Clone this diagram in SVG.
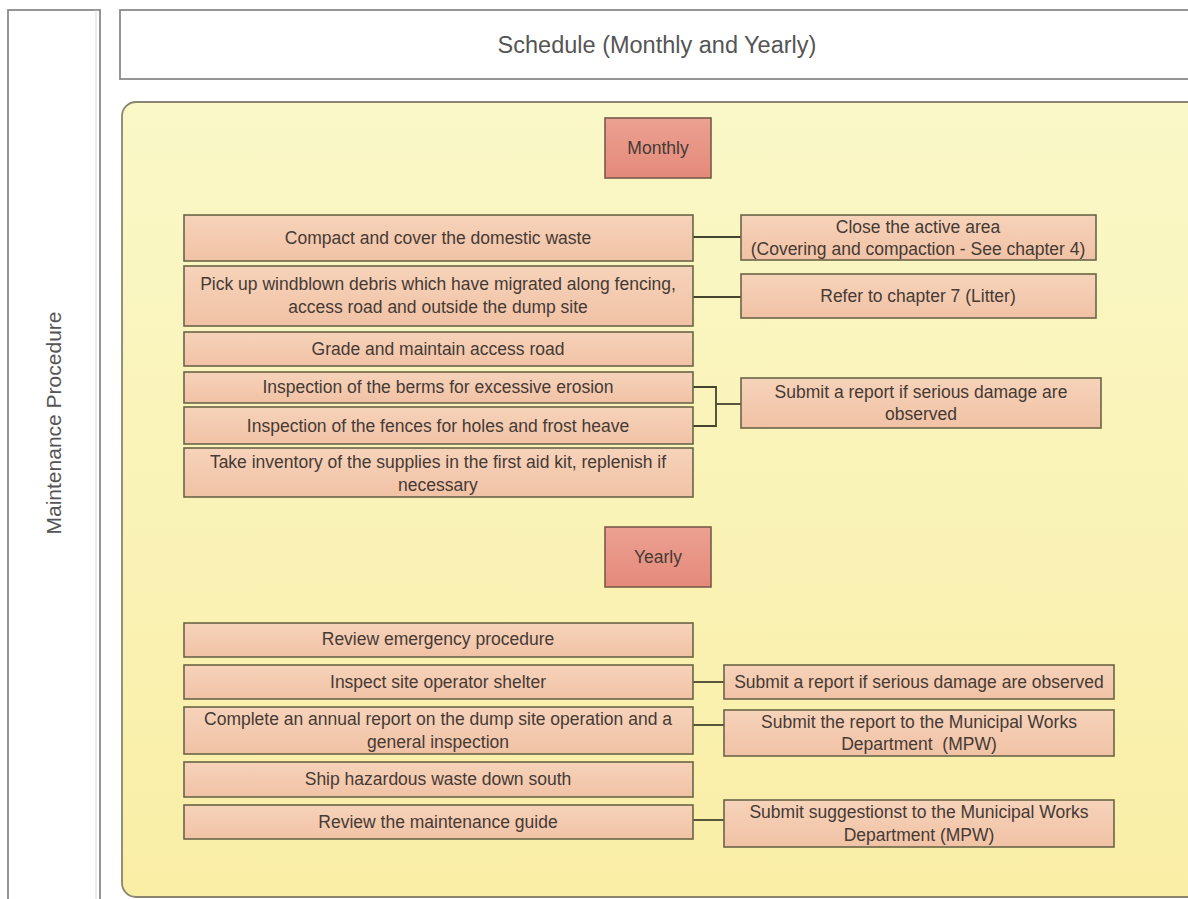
<svg xmlns="http://www.w3.org/2000/svg" width="1188" height="899" viewBox="0 0 1188 899">
<defs>
<linearGradient id="gY" x1="0" y1="0" x2="0" y2="1">
<stop offset="0" stop-color="#FAF8C8"/>
<stop offset="1" stop-color="#FAEEA6"/>
</linearGradient>
<linearGradient id="gB" x1="0" y1="0" x2="0" y2="1">
<stop offset="0" stop-color="#F6D3BA"/>
<stop offset="1" stop-color="#F1C2A5"/>
</linearGradient>
<linearGradient id="gH" x1="0" y1="0" x2="0" y2="1">
<stop offset="0" stop-color="#EBA191"/>
<stop offset="1" stop-color="#E5897A"/>
</linearGradient>
</defs>
<style>
text{font-family:"Liberation Sans",Arial,sans-serif;fill:#463a35;text-anchor:middle;font-size:17.5px;white-space:pre}
.b{fill:url(#gB);stroke:#6b6446;stroke-width:1.6}
.h{fill:url(#gH);stroke:#7a5a4a;stroke-width:1.6}
.c{fill:none;stroke:#45442e;stroke-width:1.8}
.frame{fill:#fff;stroke:#8a8a8a;stroke-width:1.8}
</style>
<g id="lane">
<rect class="frame" x="8" y="10" width="92" height="900"/>
<line x1="96" y1="10" x2="96" y2="899" stroke="#d8d8d8" stroke-width="1"/>
<text transform="translate(61,423) rotate(-90)" style="font-size:21px;fill:#555">Maintenance Procedure</text>
</g>
<g id="header">
<rect class="frame" x="120" y="10" width="1080" height="69"/>
<text x="657" y="53" style="font-size:23.5px;fill:#555">Schedule (Monthly and Yearly)</text>
</g>
<g id="container">
<rect x="122" y="102" width="1090" height="795" rx="14" fill="url(#gY)" stroke="#8a8470" stroke-width="1.8"/>
</g>
<g id="connectors">
<line class="c" x1="693" y1="237" x2="741" y2="237"/>
<line class="c" x1="693" y1="297" x2="741" y2="297"/>
<polyline class="c" points="693,387 716,387 716,426 693,426"/>
<line class="c" x1="716" y1="404" x2="741" y2="404"/>
<line class="c" x1="693" y1="682" x2="724" y2="682"/>
<line class="c" x1="693" y1="725" x2="724" y2="725"/>
<line class="c" x1="693" y1="820" x2="724" y2="820"/>
</g>
<g id="monthly">
<rect class="h" x="605" y="118" width="106" height="60"/>
<text x="658" y="154">Monthly</text>
</g>
<g id="m1">
<rect class="b" x="184" y="215" width="509" height="46"/>
<text x="438" y="244">Compact and cover the domestic waste</text>
</g>
<g id="m1r">
<rect class="b" x="741" y="215" width="355" height="45"/>
<text x="918" y="233">Close the active area</text>
<text x="918" y="255">(Covering and compaction - See chapter 4)</text>
</g>
<g id="m2">
<rect class="b" x="184" y="266" width="509" height="60"/>
<text x="438" y="290">Pick up windblown debris which have migrated along fencing,</text>
<text x="438" y="313">access road and outside the dump site</text>
</g>
<g id="m2r">
<rect class="b" x="741" y="274" width="355" height="44"/>
<text x="918" y="302">Refer to chapter 7 (Litter)</text>
</g>
<g id="m3">
<rect class="b" x="184" y="332" width="509" height="34"/>
<text x="438" y="355">Grade and maintain access road</text>
</g>
<g id="m4">
<rect class="b" x="184" y="372" width="509" height="31"/>
<text x="438" y="393">Inspection of the berms for excessive erosion</text>
</g>
<g id="m5">
<rect class="b" x="184" y="407" width="509" height="37"/>
<text x="438" y="432">Inspection of the fences for holes and frost heave</text>
</g>
<g id="m45r">
<rect class="b" x="741" y="378" width="360" height="50"/>
<text x="921" y="398">Submit a report if serious damage are</text>
<text x="921" y="420">observed</text>
</g>
<g id="m6">
<rect class="b" x="184" y="448" width="509" height="49"/>
<text x="438" y="468">Take inventory of the supplies in the first aid kit, replenish if</text>
<text x="438" y="491">necessary</text>
</g>
<g id="yearly">
<rect class="h" x="605" y="527" width="106" height="60"/>
<text x="658" y="563">Yearly</text>
</g>
<g id="y1">
<rect class="b" x="184" y="623" width="509" height="34"/>
<text x="438" y="645">Review emergency procedure</text>
</g>
<g id="y2">
<rect class="b" x="184" y="665" width="509" height="34"/>
<text x="438" y="688">Inspect site operator shelter</text>
</g>
<g id="y2r">
<rect class="b" x="724" y="665" width="390" height="34"/>
<text x="919" y="688">Submit a report if serious damage are observed</text>
</g>
<g id="y3">
<rect class="b" x="184" y="707" width="509" height="47"/>
<text x="438" y="725">Complete an annual report on the dump site operation and a</text>
<text x="438" y="748">general inspection</text>
</g>
<g id="y3r">
<rect class="b" x="724" y="710" width="390" height="46"/>
<text x="919" y="728">Submit the report to the Municipal Works</text>
<text x="919" y="750" xml:space="preserve">Department  (MPW)</text>
</g>
<g id="y4">
<rect class="b" x="184" y="762" width="509" height="35"/>
<text x="438" y="785">Ship hazardous waste down south</text>
</g>
<g id="y5">
<rect class="b" x="184" y="805" width="509" height="34"/>
<text x="438" y="828">Review the maintenance guide</text>
</g>
<g id="y5r">
<rect class="b" x="724" y="800" width="390" height="47"/>
<text x="919" y="818">Submit suggestionst to the Municipal Works</text>
<text x="919" y="841">Department (MPW)</text>
</g>
</svg>
